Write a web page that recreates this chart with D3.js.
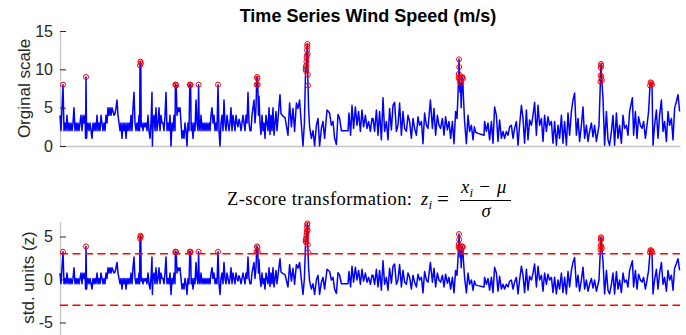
<!DOCTYPE html>
<html>
<head>
<meta charset="utf-8">
<script src="https://cdn.jsdelivr.net/npm/d3@7"></script>
<style>
  body { margin: 0; background: #fff; }
  svg { display: block; }
</style>
</head>
<body>
<svg></svg>
<script>
// ---------------- DATA ----------------
// sample number of each reading (x) and the wind speed in m/s (y)
const sampleIdx = [
  // part 1
  0,5,10,15,20,25,30,35,40,45, 50,55,60,65,70,75,80,85,90,95,
  100,105,110,115,120,125,128,130,133,135, 140,145,150,155,160,165,170,175,180,185,
  190,195,200,205,210,215,220,225,230,235, 240,245,250,255,260,265,270,275,280,285,
  290,295,300,305,310,315,320,325,330,335, 340,345,350,355,360,365,370,375,380,385,
  390,395,398,400,402,404,406,410,415,420, 425,430,435,440,445,450,455,460,462,465,
  470,475,480,485,490,495,500,505,510,
  // part 2
  515,520,525,530,535,540,545,550,555,560, 565,570,575,577,579,581,585,590,595,600,
  605,610,615,620,625,630,635,640,645,649, 651,653,656,660,665,670,675,680,685,690,
  693,696,700,705,710,715,720,725,730,735, 740,745,750,755,760,765,770,775,780,785,
  790,795,800,805,810,815,820,825,830,835, 840,845,850,855,860,865,870,875,880,885,
  890,895,900,905,910,915,920,925,930,935, 940,945,950,955,960,965,970,975,980,983,
  985,987,989,992,995,1000,1005,1010,1015,1020, 1025,1030,
  // part 3
  1040,1045,1050,1055,1060,1065,1070,1075,1080,1085, 1100,1105,1115,1125,1140,1148,1157,1165,1173,1182,
  1190,1198,1207,1215,1222,1228,1229,1230,1231,1232, 1233,1234,1235,1236,1237,1238,1239,1240,1243,1248,
  1257,1265,1273,1282,1290,1298,1307,1315,1323,1335, 1348,1357,1365,1373,1382,1390,1398,1407,1440,1445,
  1453,1460,1468,1477,1485,1493,1502,1510,1518,1527, 1535,1543,1552,1560,
  // part 4
  1565,1573,1582,1590,1598,1607,1615,1623,1632,1640, 1648,1657,1665,1673,1682,1690,1698,1707,1715,1723,
  1732,1740,1748,1757,1765,1773,1782,1790,1798,1807, 1815,1823,1832,1840,1852,1862,1870,1878,1887,1895,
  1903,1912,1920,1928,1937,1945,1953,1962,1970,1978, 1985,1990,1993,1994,1995,1996,1997,1998,2000,2003,
  2006,2010,2012,2014,2016,2023,2032,2040,2048,2057, 2065,2072,2078,
  // part 5
  2090,2120,2123,2132,2140,2148,2157,2165,2173,2182, 2190,2198,2207,2215,2223,2232,2240,2248,2257,2265,
  2273,2282,2290,2298,2307,2315,2323,2332,2340,2348, 2357,2365,2373,2382,2390,2398,2407,2415,2423,2432,
  2440,2448,2457,2465,2473,2482,2490,2498,2507,2515, 2523,2532,2540,2548,2557,2565,2573,2582,2590,2598,
  2607,
  // part 6
  2615,2623,2632,2640,2648,2657,2665,2673,2682,2690, 2695,2702,2703,2704,2705,2706,2707,2709,2715,2723,
  2732,2740,2748,2757,2765,2773,2782,2790,2798,2807, 2815,2823,2832,2840,2848,2862,2868,2877,2885,2893,
  2902,2910,2918,2927,2935,2943,2950,2953,2957,2960, 2965,2973,2982,2990,2998,3007,3015,3023,3032,3040,
  3048,3057,3065,3073,3082,3090,3098
];

const windSpeed = [
  // part 1
  4,2,5,8,2,3,2,4,2,3, 2,3,2,3,5,2,3,2,3,2,
  3,4,2,4,3,4,1,9,1,2, 3,2,3,2,1,3,2,3,2,4,
  2,3,2,4,3,2,3,2,4,3, 5,4,5,4,5,4.5,4,4.2,5,6,
  4,3,2,3,1,3,2,3,1,3, 2,3,2,4,2,5,7,3,2,3,
  2,4,2,10.5,11,10.8,2.5,3,2,3, 2.5,3,2,4,2,1,3,7,0,3,
  4,2,5,2,3,5,2,4,3,
  // part 2
  3,2,4,7,2,3,2,4,0,3, 2,4,2,8,8,7.9,4,5,4.5,5,
  3,1,2,1,3,2,0,3,2,8, 7.9,8,2,3,1,3,2,6,3,2,
  8,3,2,4,2,3,2,3,2,3, 2,3,2,4,5,3,4,2,3,2,
  8,2,0,3,4,2,6,3,2,4, 3,2,3,5,2,4,3,2,4,3,
  2.5,3.5,3,2,3,4,3,2,4,3, 7,3,2,2,4,5,6,3,5,8,
  9,8.8,8,4,6.5,3,1.5,4,2,3, 1,4,
  // part 3
  2,5,1.5,4,2,5,1.4,3,4.5,2, 6.7,4.2,3.9,3.7,1.4,5.6,2.5,4.9,1.9,5.6,
  4.9,6,2.7,0,3,10,10.3,9.8,10.5,11, 11.5,11.8,12.5,13,13.3,12,9.3,7.9,4.9,2.5,
  1,2,0,2.7,3.6,0,2.3,3.2,1,4.7, 4.3,2.7,3.2,1,0.2,4.1,3.6,2,2,4.3,
  1.4,5.3,2.3,5.1,2.7,4.5,1.9,4.7,2.5,4, 2.3,3.2,1.9,3.6,
  // part 4
  3.6,1.9,4.7,1.4,4.5,0.8,6.3,1.9,3.2,0.8, 4.9,2.1,5.3,5.7,1.9,2.7,5.6,1.4,4.5,2.3,
  1.9,4,3.2,1,3.6,2.3,1.4,3.8,2.7,3.2, 0.3,4.3,2.7,2.3,6,2.3,4.9,1.4,4,2.7,
  2.3,3.6,1.4,3.8,2.1,3.2,1,3.2,0.3,4.5, 3.6,6.7,8.9,9.4,11.3,10.3,9,8.5,7,8.2,
  5,8.9,9,8.8,7,3.2,0.3,4,1.9,2.7, 0.8,2.5,1.8,
  // part 5
  1.65,1.4,3.2,1.9,3,0.8,3.2,0.35,5.1,4, 0.6,3.4,1,1.9,1,1.9,1.4,2.5,2.7,1,
  2.3,3.2,0.1,2.7,5.3,3.6,0.35,4.7,0.8,3.4, 2.7,4,5.7,1.4,5.3,2.7,3.6,0.6,4,1.9,
  3.8,2.7,3.2,0.35,3.2,0.1,2.7,1,4,0.35, 3.2,0.1,4.3,1.4,4.5,6,6.9,1.4,3.6,0.6,
  2.7,
  // part 6
  5.1,1,2.7,0.6,1.9,3,1.2,2.7,0.6,1.9, 2.7,8.4,9.2,10.2,10.7,10.5,9,8.6,6.2,0.1,
  4.5,0.8,0.1,1.9,4,0.1,4.3,1,2.7,0.35, 4,2.3,2.7,1.4,4.5,6.3,1.4,4.5,1,3.8,
  2.7,2.3,3.2,1,2.7,4.5,7.9,8.3,8.2,8, 0.1,2.7,4.7,1,4,6,1.9,3.2,0.6,4.5,
  2.7,3.6,0.8,4.9,5.8,6.7,4.5
];

// mean and std of the full record (read from where z = 0 / z = 3 sit in the lower plot)
const speedMean = 2.8;
const speedStd = 1.61;
const zLimit = 3; // |z| > 3 => outlier

const topTicks = [0, 5, 10, 15];
const bottomTicks = [-5, 0, 5];

// ---------------- LAYOUT ----------------
const width = 686;
const height = 335;
const left = 60, right = 680;
const sansFont = "'Liberation Sans', Arial, Helvetica, sans-serif";
const serifFont = "'Liberation Serif', 'DejaVu Serif', 'Times New Roman', serif";
const axisGray = "#c4c4c4";
const textColor = "#262626";

const svg = d3.select("svg").attr("width", width).attr("height", height);

//build the rows: speed + its z-score
const series = sampleIdx.map((t, i) => ({
  t: t,
  v: windSpeed[i],
  z: (windSpeed[i] - speedMean) / speedStd
}));
const outliers = series.filter((d) => Math.abs(d.z) > zLimit);

//scales
const x = d3.scaleLinear().domain([0, 3100]).range([left, right]);
const yTop = d3.scaleLinear().domain([0, 15]).range([146, 31]);
const yBot = d3.scaleLinear().domain([-7, 6.72]).range([339.7, 221.7]);

//axis helper, matlab style: ticks pointing inwards
function styleAxis(g) {
  g.select(".domain").attr("stroke", axisGray).attr("stroke-width", 1.3);
  g.selectAll(".tick line").attr("stroke", textColor);
  g.selectAll(".tick text")
    .attr("fill", textColor)
    .style("font-family", sansFont)
    .style("font-size", "16px");
}

// ---------------- TOP PANEL ----------------
svg.append("g")
  .attr("transform", `translate(0,${yTop(0)})`)
  .call(d3.axisBottom(x).tickValues([]).tickSizeOuter(0))
  .call(styleAxis);

svg.append("g")
  .attr("transform", `translate(${left},0)`)
  .call(d3.axisLeft(yTop).tickValues(topTicks).tickFormat((d) => String(d))
    .tickSizeInner(-6).tickSizeOuter(0).tickPadding(7))
  .call(styleAxis);

const lineTop = d3.line().x((d) => x(d.t)).y((d) => yTop(d.v));
svg.append("path")
  .datum(series)
  .attr("fill", "none")
  .attr("stroke", "#0000ff")
  .attr("stroke-width", 1.5)
  .attr("stroke-linejoin", "round")
  .attr("d", lineTop);

svg.append("g")
  .selectAll("circle")
  .data(outliers)
  .join("circle")
  .attr("cx", (d) => x(d.t))
  .attr("cy", (d) => yTop(d.v))
  .attr("r", 2.5)
  .attr("fill", "none")
  .attr("stroke", "#ff0000")
  .attr("stroke-width", 1);

svg.append("text")
  .attr("x", 368)
  .attr("y", 22)
  .attr("text-anchor", "middle")
  .style("font-family", sansFont)
  .style("font-weight", "bold")
  .style("font-size", "18px")
  .attr("fill", "#000")
  .text("Time Series Wind Speed (m/s)");

svg.append("text")
  .attr("transform", "translate(30,88.5) rotate(-90)")
  .attr("text-anchor", "middle")
  .style("font-family", sansFont)
  .style("font-size", "17px")
  .attr("fill", textColor)
  .text("Orginal scale");

// ---------------- BOTTOM PANEL ----------------
svg.append("g")
  .attr("transform", `translate(${left},0)`)
  .call(d3.axisLeft(yBot).tickValues(bottomTicks).tickFormat((d) => String(d))
    .tickSizeInner(-6).tickSizeOuter(0).tickPadding(7))
  .call(styleAxis);

const lineBot = d3.line().x((d) => x(d.t)).y((d) => yBot(d.z));
svg.append("path")
  .datum(series)
  .attr("fill", "none")
  .attr("stroke", "#0000ff")
  .attr("stroke-width", 1.5)
  .attr("stroke-linejoin", "round")
  .attr("d", lineBot);

//threshold lines at +/- 3
svg.append("g")
  .selectAll("line")
  .data([zLimit, -zLimit])
  .join("line")
  .attr("x1", x(0))
  .attr("x2", x(3100))
  .attr("y1", (d) => yBot(d))
  .attr("y2", (d) => yBot(d))
  .attr("stroke", "#ff0000")
  .attr("stroke-width", 1.5)
  .attr("stroke-dasharray", "8,4.5");

svg.append("g")
  .selectAll("circle")
  .data(outliers)
  .join("circle")
  .attr("cx", (d) => x(d.t))
  .attr("cy", (d) => yBot(d.z))
  .attr("r", 2.5)
  .attr("fill", "none")
  .attr("stroke", "#ff0000")
  .attr("stroke-width", 1);

svg.append("text")
  .attr("transform", "translate(34,277.5) rotate(-90)")
  .attr("text-anchor", "middle")
  .style("font-family", sansFont)
  .style("font-size", "17px")
  .attr("fill", textColor)
  .text("std. units (z)");

//latex-like title: Z-score transformation: z_i = (x_i - mu) / sigma
const eq = svg.append("g")
  .attr("font-family", serifFont)
  .attr("fill", "#000");

eq.append("text").attr("x", 227).attr("y", 205).attr("font-size", 18.5)
  .attr("textLength", 185).attr("lengthAdjust", "spacing")
  .text("Z-score transformation:");
eq.append("text").attr("x", 421).attr("y", 205).attr("font-size", 18.5).attr("font-style", "italic")
  .text("z");
eq.append("text").attr("x", 428.5).attr("y", 208.5).attr("font-size", 13).attr("font-style", "italic")
  .text("i");
eq.append("text").attr("x", 443).attr("y", 205.5).attr("text-anchor", "middle").attr("font-size", 21)
  .text("=");
eq.append("text").attr("x", 461).attr("y", 193).attr("font-size", 18.5).attr("font-style", "italic")
  .text("x");
eq.append("text").attr("x", 469.5).attr("y", 196.5).attr("font-size", 13).attr("font-style", "italic")
  .text("i");
eq.append("text").attr("x", 484.5).attr("y", 193).attr("text-anchor", "middle").attr("font-size", 19)
  .text("\u2212");
eq.append("text").attr("x", 497).attr("y", 193).attr("font-size", 18.5).attr("font-style", "italic")
  .text("\u03bc");
eq.append("line")
  .attr("x1", 460).attr("x2", 511)
  .attr("y1", 200.5).attr("y2", 200.5)
  .attr("stroke", "#000").attr("stroke-width", 1);
eq.append("text").attr("x", 486).attr("y", 216.5).attr("text-anchor", "middle").attr("font-size", 18.5).attr("font-style", "italic")
  .text("\u03c3");
</script>
</body>
</html>
